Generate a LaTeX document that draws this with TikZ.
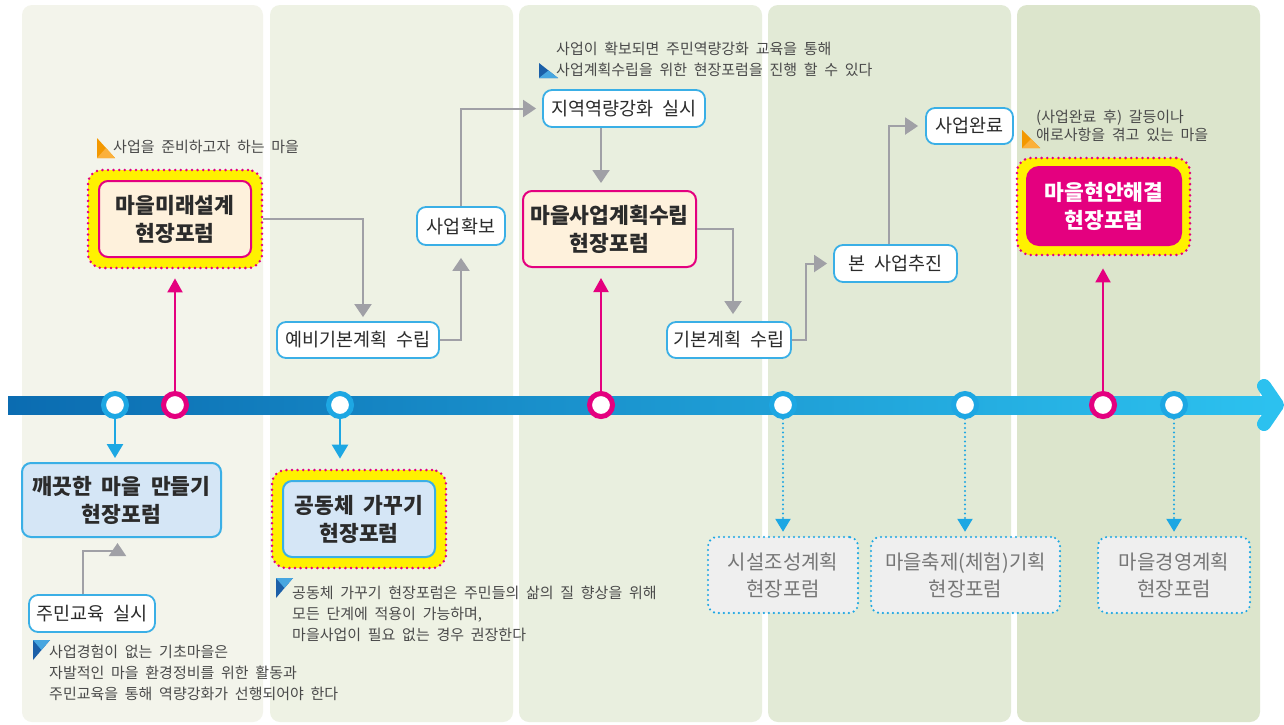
\documentclass[tikz,border=0pt]{standalone}
\usepackage{fontspec}
\setmainfont{Noto Sans CJK KR}[WordSpace=2]
\usetikzlibrary{arrows.meta}
\definecolor{mag}{HTML}{E4007F}
\definecolor{hyel}{HTML}{FFF100}
\definecolor{beige}{HTML}{FEF1DC}
\definecolor{bbord}{HTML}{3AAFE6}
\definecolor{lblue}{HTML}{D5E6F6}
\definecolor{cblue}{HTML}{1DA7E3}
\definecolor{gline}{HTML}{A0A0A6}
\definecolor{lgrey}{HTML}{EFEFEF}
\definecolor{gtext}{HTML}{767676}
\definecolor{txt}{HTML}{2B2B2B}
\definecolor{atext}{HTML}{4A4A4A}
\definecolor{pa}{HTML}{F3F4EB}
\definecolor{pb}{HTML}{EEF2E4}
\definecolor{pc}{HTML}{E9EFDF}
\definecolor{pd}{HTML}{E2EAD6}
\definecolor{pe}{HTML}{DCE5CC}
\definecolor{tla}{HTML}{0B6CB1}
\definecolor{tlb}{HTML}{1597D6}
\definecolor{tlc}{HTML}{2CC1EF}
\definecolor{ora}{HTML}{F39800}
\definecolor{orb}{HTML}{FBB03B}
\definecolor{bla}{HTML}{1B5FA8}
\definecolor{blb}{HTML}{47A6E0}
\begin{document}
\begin{tikzpicture}[x=1pt,y=-1pt,
  halo/.style={rounded corners=14pt, fill=hyel, draw=mag, line width=2.8pt,
    dash pattern=on 0pt off 5.6pt, line cap=round, inner sep=0pt},
  mainbox/.style={rounded corners=9pt, draw=mag, line width=2pt, fill=beige,
    inner sep=0pt, align=center, text=txt, font=\bfseries\fontsize{21.5}{28}\selectfont},
  bluebox/.style={mainbox, draw=bbord, fill=lblue},
  magbox/.style={mainbox, draw=mag, fill=mag, text=white, rounded corners=12pt},
  smallbox/.style={rounded corners=9pt, draw=bbord, line width=1.8pt, fill=white,
    inner sep=0pt, text=txt, font=\fontsize{18.5}{20}\selectfont},
  dotbox/.style={rounded corners=9pt, draw=cblue, line width=2.4pt,
    dash pattern=on 0pt off 5pt, line cap=round, fill=lgrey, inner sep=0pt,
    align=center, text=gtext, font=\fontsize{20}{27}\selectfont,
    minimum height=76pt},
  ann/.style={inner sep=0pt, anchor=west, align=left, text=atext,
    font=\fontsize{15}{21}\selectfont},
  bcirc/.style={circle, minimum size=23pt, inner sep=0pt, fill=white, draw=cblue, line width=5pt},
  mcirc/.style={bcirc, draw=mag},
  garrow/.style={draw=gline, line width=2pt, -{Triangle[width=17pt,length=13pt]}},
  barrow/.style={draw=cblue, line width=2.5pt, -{Triangle[width=16pt,length=14pt]}},
  marrow/.style={draw=mag, line width=2pt, -{Triangle[width=15pt,length=14pt]}},
  darrow/.style={draw=cblue, line width=2.2pt, dash pattern=on 0pt off 4.5pt,
    line cap=round, -{Triangle[width=15pt,length=13pt]}},
]
\useasboundingbox (0,0) rectangle (1284,724);
\fill[white] (0,0) rectangle (1284,724);
% panels
\fill[pa, rounded corners=10pt] (22,5) rectangle (263,722);
\fill[pb, rounded corners=10pt] (270,5) rectangle (513,722);
\fill[pc, rounded corners=10pt] (519,5) rectangle (762,722);
\fill[pd, rounded corners=10pt] (768,5) rectangle (1011,722);
\fill[pe, rounded corners=10pt] (1017,5) rectangle (1260,722);
% timeline
\shade[left color=tla, middle color=tlb, right color=tlc] (8,396) rectangle (1272,414);
\draw[tlc, line width=14pt, line cap=round, line join=round] (1264,386) -- (1277,405) -- (1264,424);
% circles
\node[bcirc] (c1) at (115,405) {};
\node[mcirc] (c2) at (175,405) {};
\node[bcirc] (c3) at (340,405) {};
\node[mcirc] (c4) at (601,405) {};
\node[bcirc] (c5) at (783,405) {};
\node[bcirc] (c6) at (965,405) {};
\node[mcirc] (c7) at (1103,405) {};
\node[bcirc] (c8) at (1174,405) {};
% main boxes
\node[halo, minimum width=174pt, minimum height=98pt] (h1) at (175,219) {};
\node[mainbox, minimum width=152pt, minimum height=76pt] (mirae) at (175,219) {마을미래설계\\현장포럼};
\node[halo, minimum width=174pt, minimum height=98pt] (h2) at (359,519) {};
\node[bluebox, minimum width=152pt, minimum height=76pt] (gong) at (359,519) {공동체 가꾸기\\현장포럼};
\node[halo, minimum width=173pt, minimum height=97pt] (h3) at (1103.5,206.5) {};
\node[magbox, minimum width=154pt, minimum height=78pt] (hyeon) at (1104,206) {마을현안해결\\현장포럼};
\node[bluebox, minimum width=199pt, minimum height=74pt] (kkae) at (121.5,500) {깨끗한 마을 만들기\\현장포럼};
\node[mainbox, minimum width=173pt, minimum height=76pt] (saup) at (609.5,229) {마을사업계획수립\\현장포럼};
% small boxes
\node[smallbox, minimum width=126pt, minimum height=37pt] (jumin) at (92,613.5) {주민교육 실시};
\node[smallbox, minimum width=162pt, minimum height=36pt] (yebi) at (358,340) {예비기본계획 수립};
\node[smallbox, minimum width=88pt, minimum height=38pt] (hwak) at (461,226) {사업확보};
\node[smallbox, minimum width=162pt, minimum height=37pt] (jiyeok) at (624,108.5) {지역역량강화 실시};
\node[smallbox, minimum width=124pt, minimum height=36pt] (gibon) at (729,340) {기본계획 수립};
\node[smallbox, minimum width=123pt, minimum height=37pt] (bon) at (895.5,263.5) {본 사업추진};
\node[smallbox, minimum width=87pt, minimum height=36pt] (wan) at (969.5,126) {사업완료};
% dotted boxes
\node[dotbox, minimum width=150pt] (sisul) at (783,575) {시설조성계획\\현장포럼};
\node[dotbox, minimum width=189pt] (chuk) at (965.5,575) {마을축제(체험)기획\\현장포럼};
\node[dotbox, minimum width=152pt] (gyeong) at (1174,575) {마을경영계획\\현장포럼};
% timeline connectors
\draw[barrow, shorten >=4pt] (c1) -- (c1 |- kkae.north);
\draw[barrow, shorten >=10pt] (c3) -- (c3 |- h2.north);
\draw[marrow, shorten >=9pt] (c2) -- (c2 |- h1.south);
\draw[marrow, shorten >=10pt] (c4) -- (c4 |- saup.south);
\draw[marrow, shorten >=12pt] (c7) -- (c7 |- h3.south);
\draw[darrow, shorten >=4pt] (c5) -- (c5 |- sisul.north);
\draw[darrow, shorten >=4pt] (c6) -- (c6 |- chuk.north);
\draw[darrow, shorten >=4pt] (c8) -- (c8 |- gyeong.north);
% grey connectors
\draw[garrow, shorten >=4pt] (h1.east) -| ([xshift=5pt]yebi.north);
\draw[garrow, shorten >=12pt] (yebi.east) -| (hwak.south);
\draw[garrow, shorten >=6pt] (hwak.north) |- (jiyeok.west);
\draw[garrow, shorten >=7pt] (jiyeok.south -| c4) -- (saup.north -| c4);
\draw[garrow, shorten >=7pt] (saup.east) -| ([xshift=4pt]gibon.north);
\draw[garrow, shorten >=6pt] (gibon.east) -- ++(14,0) |- (bon.west);
\draw[garrow, shorten >=7pt] ([xshift=-7pt]bon.north) |- (wan.west);
\draw[garrow, shorten >=5pt] ([xshift=-9pt]jumin.north) -- ++(0,-43) -| ([xshift=-4pt]kkae.south);
% annotation markers
\fill[ora] (97,138) -- (97,158) -- (115,158) -- cycle;
\fill[orb] (97,158) -- (115,158) -- (106,148) -- cycle;
\fill[ora] (1022,130) -- (1022,148) -- (1040,148) -- cycle;
\fill[orb] (1022,148) -- (1040,148) -- (1031,139) -- cycle;
\fill[bla] (539,63) -- (539,78) -- (558,78) -- cycle;
\fill[blb] (539,78) -- (558,78) -- (548.5,70.5) -- cycle;
\fill[bla] (33,640) -- (50,640) -- (33,660) -- cycle;
\fill[blb] (50,640) -- (33,640) -- (41.5,650) -- cycle;
\fill[bla] (276,578) -- (293,578) -- (276,598) -- cycle;
\fill[blb] (293,578) -- (276,578) -- (284.5,588) -- cycle;
% annotations
\node[ann] (a1) at (113,147) {사업을 준비하고자 하는 마을};
\node[ann] (a2) at (556,59) {사업이 확보되면 주민역량강화 교육을 통해\\사업계획수립을 위한 현장포럼을 진행 할 수 있다};
\node[ann, font=\fontsize{15}{18}\selectfont] (a3) at (1036,126) {(사업완료 후) 갈등이나\\애로사항을 겪고 있는 마을};
\node[ann] (a4) at (292,614) {공동체 가꾸기 현장포럼은 주민들의 삶의 질 향상을 위해\\모든 단계에 적용이 가능하며,\\마을사업이 필요 없는 경우 권장한다};
\node[ann] (a5) at (49,672.5) {사업경험이 없는 기초마을은\\자발적인 마을 환경정비를 위한 활동과\\주민교육을 통해 역량강화가 선행되어야 한다};
\end{tikzpicture}
\end{document}
